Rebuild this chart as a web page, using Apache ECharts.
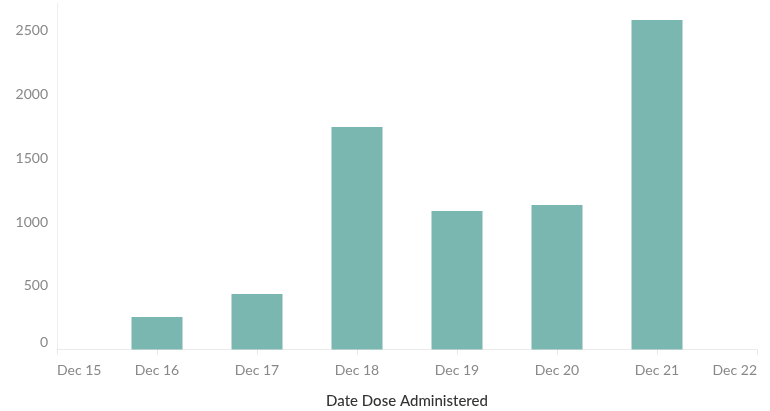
<!DOCTYPE html>
<html>
<head>
<meta charset="utf-8">
<script src="https://cdn.jsdelivr.net/npm/echarts@6/dist/echarts.min.js"></script>
<style>html,body{margin:0;padding:0;background:#fff}#c{width:770px;height:411px}</style>
</head>
<body>
<div id="c"></div>
<script>
const categories = ['Dec 15','Dec 16','Dec 17','Dec 18','Dec 19','Dec 20','Dec 21','Dec 22'];
const doses = [null, 255, 435, 1745, 1086, 1133, 2584, null];
const yMax = 2718;
const yInterval = 500;
const xTitle = 'Date Dose Administered';

const chart = echarts.init(document.getElementById('c'));
chart.setOption({
  animation: false,
  textStyle: { fontFamily: 'Lato' },
  grid: { left: 57, right: 13, top: 3, bottom: 61.5, containLabel: false, outerBoundsMode: 'none' },
  xAxis: {
    type: 'category',
    data: categories,
    boundaryGap: false,
    name: xTitle,
    nameLocation: 'middle',
    nameGap: 44,
    nameTextStyle: { color: '#333', fontSize: 15, fontFamily: 'Lato', fontWeight: 500 },
    axisLine: { lineStyle: { color: '#ebebeb' } },
    axisTick: { show: true, length: 5, lineStyle: { color: '#e6e6e6' } },
    axisLabel: { color: '#888', fontSize: 14, margin: 14, interval: 0, alignMinLabel: 'left', alignMaxLabel: 'right' },
    splitLine: { show: false }
  },
  yAxis: {
    type: 'value',
    min: 0,
    max: yMax,
    interval: yInterval,
    axisLine: { show: true, lineStyle: { color: '#efefef' } },
    axisTick: { show: false },
    splitLine: { show: false },
    axisLabel: {
      color: '#888', fontSize: 14, margin: 9,
      verticalAlignMinLabel: 'bottom',
      formatter: v => (v % yInterval === 0 ? String(v) : '')
    }
  },
  series: [{
    type: 'bar',
    data: doses,
    barWidth: 51,
    itemStyle: { color: '#7ab7b0' }
  }]
});
</script>
</body>
</html>
